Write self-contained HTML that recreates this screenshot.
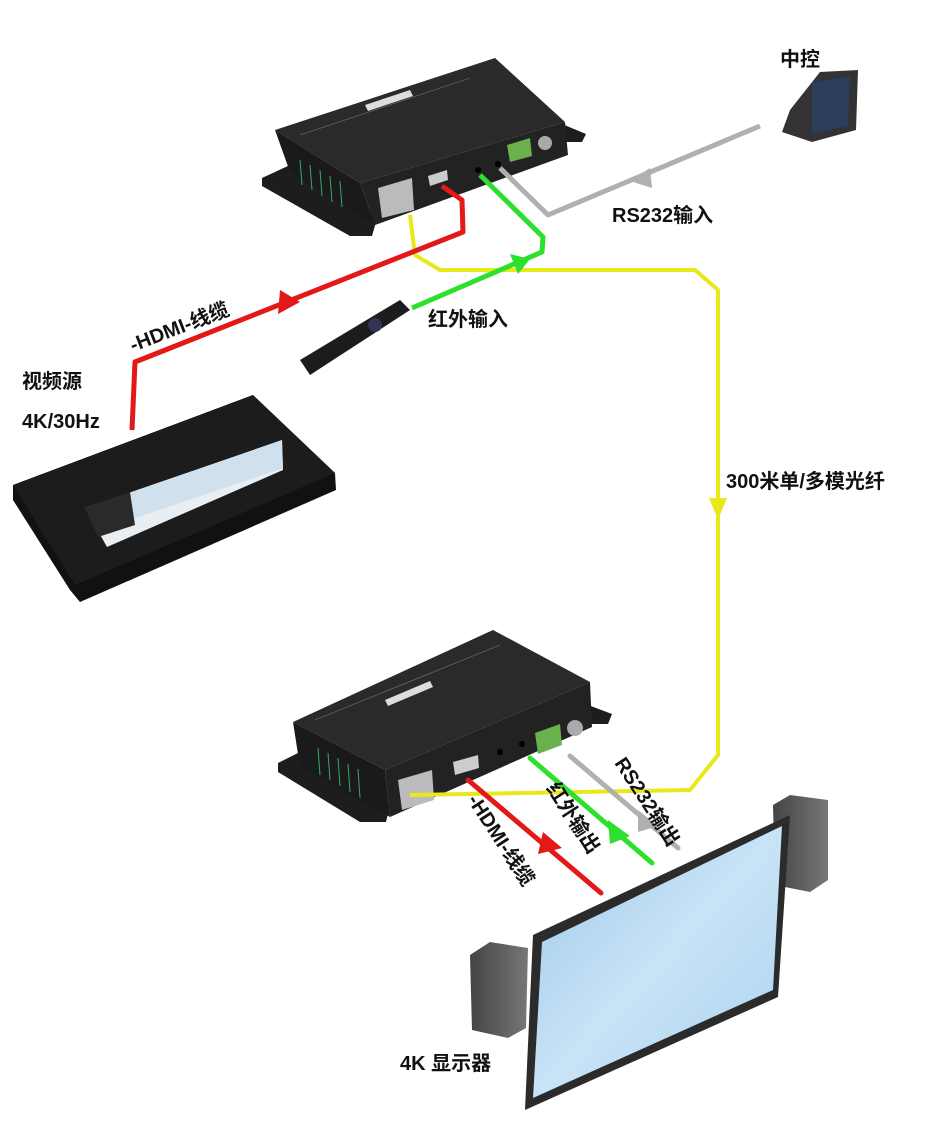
<!DOCTYPE html>
<html><head><meta charset="utf-8"><style>
html,body{margin:0;padding:0;background:#fff;}
svg{display:block}
text{font-family:"Liberation Sans","Noto Sans CJK SC",sans-serif;font-weight:bold;fill:#111}
</style></head><body>
<svg width="950" height="1121" viewBox="0 0 950 1121" xmlns="http://www.w3.org/2000/svg">
<defs>
<linearGradient id="scr" x1="0" y1="0" x2="1" y2="1"><stop offset="0" stop-color="#9cc7ea"/><stop offset="0.5" stop-color="#c9e3f6"/><stop offset="1" stop-color="#a9d2ef"/></linearGradient>
<linearGradient id="spk" x1="0" y1="0" x2="1" y2="0"><stop offset="0" stop-color="#444"/><stop offset="1" stop-color="#777"/></linearGradient>
</defs>

<!-- TOP BOX -->
<polygon points="262,178 290,165 378,215 372,236 350,236 262,186" fill="#1d1d1d"/>
<polygon points="562,124 586,134 582,142 566,142" fill="#1d1d1d"/>
<polygon points="275,130 495,58 565,122 360,183" fill="#2a2a2a"/>
<polygon points="275,130 360,183 375,225 290,172" fill="#1a1a1a"/>
<polygon points="360,183 565,122 568,155 375,225" fill="#222"/>
<line x1="300" y1="135" x2="470" y2="78" stroke="#777" stroke-width="0.6"/>
<polygon points="365,105 410,90 413,96 368,111" fill="#ddd"/>
<polygon points="378,188 412,178 414,210 382,218" fill="#bbb"/>
<polygon points="428,176 447,170 448,180 430,186" fill="#ccc"/>
<circle cx="478" cy="170" r="3" fill="#000"/><circle cx="498" cy="164" r="3" fill="#000"/>
<polygon points="507,145 530,138 532,156 510,162" fill="#6ab04c"/>
<circle cx="545" cy="143" r="7" fill="#aaa"/>
<g stroke="#3a6" stroke-width="1"><line x1="300" y1="160" x2="302" y2="185"/><line x1="310" y1="165" x2="312" y2="190"/><line x1="320" y1="170" x2="322" y2="196"/><line x1="330" y1="176" x2="332" y2="202"/><line x1="340" y1="181" x2="342" y2="207"/></g>

<!-- BOTTOM BOX -->
<polygon points="278,763 300,752 390,805 386,822 360,822 278,772" fill="#1d1d1d"/>
<polygon points="588,705 612,714 608,724 590,724" fill="#1d1d1d"/>
<polygon points="293,722 493,630 590,682 385,770" fill="#2a2a2a"/>
<polygon points="293,722 385,770 390,817 300,767" fill="#1a1a1a"/>
<polygon points="385,770 590,682 592,727 390,817" fill="#222"/>
<line x1="315" y1="720" x2="500" y2="645" stroke="#777" stroke-width="0.6"/>
<polygon points="385,700 430,681 433,687 388,706" fill="#ddd"/>
<polygon points="398,780 432,770 434,800 402,810" fill="#bbb"/>
<polygon points="453,762 478,755 479,768 455,775" fill="#ccc"/>
<circle cx="500" cy="752" r="3" fill="#000"/><circle cx="522" cy="744" r="3" fill="#000"/>
<polygon points="535,733 560,724 562,745 538,754" fill="#6ab04c"/>
<circle cx="575" cy="728" r="8" fill="#aaa"/>
<g stroke="#3a6" stroke-width="1"><line x1="318" y1="748" x2="320" y2="775"/><line x1="328" y1="753" x2="330" y2="780"/><line x1="338" y1="758" x2="340" y2="786"/><line x1="348" y1="764" x2="350" y2="792"/><line x1="358" y1="769" x2="360" y2="798"/></g>

<!-- CABLES top -->
<polyline points="410,215 415,255 440,270 695,270 718,290 718,755 690,790 410,795" fill="none" stroke="#e8e81a" stroke-width="4" stroke-linejoin="round"/>
<polygon points="709,498 727,498 718,520" fill="#e8e81a"/>
<polyline points="442,186 462,200 463,232 135,362 132,430" fill="none" stroke="#e31818" stroke-width="5" stroke-linejoin="round"/>
<polygon points="280,290 300,302 278,314" fill="#e31818"/>
<polyline points="480,175 543,237 542,252 412,308" fill="none" stroke="#2ee02e" stroke-width="5" stroke-linejoin="round"/>
<polygon points="510,254 530,259 518,274" fill="#2ee02e"/>
<polyline points="500,168 548,215 760,126" fill="none" stroke="#b0b0b0" stroke-width="5" stroke-linejoin="round"/>
<polygon points="650,168 630,181 652,188" fill="#b0b0b0"/>

<!-- CABLES bottom -->
<line x1="468" y1="780" x2="601" y2="893" stroke="#e31818" stroke-width="5" stroke-linecap="round"/>
<polygon points="543,832 562,848 538,854" fill="#e31818"/>
<line x1="530" y1="758" x2="652" y2="863" stroke="#2ee02e" stroke-width="5" stroke-linecap="round"/>
<polygon points="608,820 630,836 610,844" fill="#2ee02e"/>
<line x1="570" y1="756" x2="678" y2="848" stroke="#b0b0b0" stroke-width="5" stroke-linecap="round"/>
<polygon points="638,810 658,826 638,832" fill="#b0b0b0"/>

<!-- Remote -->
<polygon points="300,360 400,300 410,310 310,375" fill="#1c1c1c"/>
<circle cx="375" cy="325" r="7" fill="#335"/>

<!-- Controller -->
<polygon points="790,110 820,72 858,70 856,130 812,142 782,132" fill="#333"/>
<polygon points="812,82 850,76 848,126 812,134" fill="#2a3d5a"/>

<!-- Sony player -->
<polygon points="13,485 253,395 335,473 336,490 80,602 70,590 13,500" fill="#111"/>
<polygon points="13,485 253,395 335,473 75,585" fill="#1c1c1c"/>
<polygon points="85,508 282,440 283,470 107,547" fill="#e9eef2"/>
<polygon points="125,495 282,440 283,468 130,520" fill="#cfe0ee"/>
<polygon points="85,508 130,492 135,525 98,537" fill="#2a2a2a"/>

<!-- Speakers -->
<polygon points="773,805 790,795 828,800 828,880 810,892 775,885" fill="url(#spk)"/>
<polygon points="470,955 490,942 528,948 526,1028 508,1038 472,1030" fill="url(#spk)"/>

<!-- Monitor -->
<polygon points="533,935 790,815 778,997 525,1110" fill="#2b2b2b"/>
<polygon points="542,942 782,826 773,990 533,1098" fill="url(#scr)"/>

<!-- Labels -->
<text x="780" y="66" font-size="20">中控</text>
<text x="612" y="222" font-size="20">RS232输入</text>
<text x="428" y="326" font-size="20">红外输入</text>
<text x="22" y="388" font-size="20">视频源</text>
<text x="22" y="428" font-size="20">4K/30Hz</text>
<text x="726" y="488" font-size="20">300米单/多模光纤</text>
<text x="400" y="1070" font-size="20">4K 显示器</text>
<text transform="translate(133,352) rotate(-21)" font-size="20">-HDMI-线缆</text>
<text transform="translate(467,800) rotate(57)" font-size="20">-HDMI-线缆</text>
<text transform="translate(546,788) rotate(57)" font-size="20">红外输出</text>
<text transform="translate(614,763) rotate(57)" font-size="20">RS232输出</text>
</svg>
</body></html>
